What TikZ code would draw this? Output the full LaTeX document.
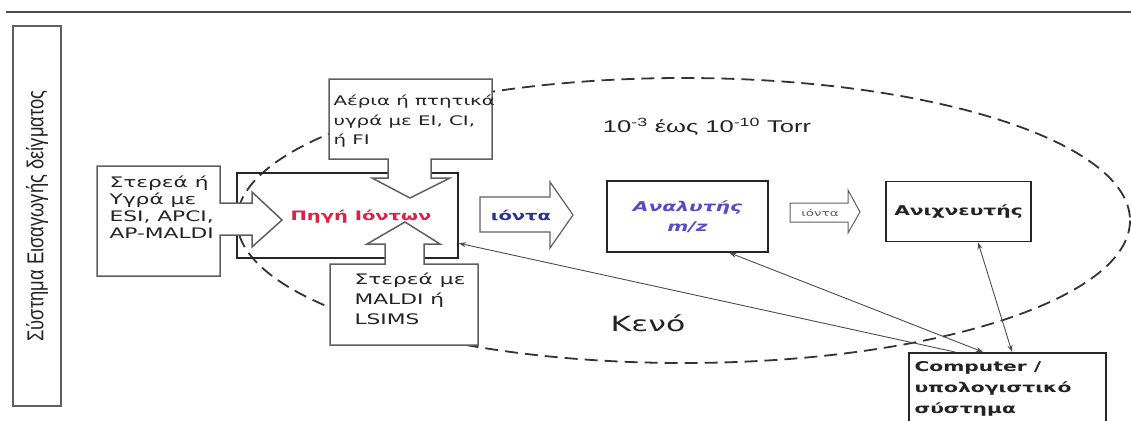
\documentclass[tikz,border=0pt]{standalone}
\usepackage{fontspec}
\setmainfont{DejaVu Sans}[FakeStretch=1.5]
\newfontfamily\torrfont{Liberation Sans}[FakeStretch=1.5]
\newfontfamily\sysfont{Liberation Sans}[FakeStretch=0.8]
\usetikzlibrary{arrows.meta,positioning,calc}
\definecolor{boxgray}{RGB}{95,95,95}
\definecolor{txtdark}{RGB}{35,35,35}
\definecolor{srcred}{RGB}{225,30,70}
\definecolor{ionblue}{RGB}{40,50,150}
\definecolor{anablue}{RGB}{85,75,200}

\tikzset{
  inlet/.style={draw=boxgray,line width=1.5pt,fill=white,line join=miter},
  unitbox/.style={draw=black!85,line width=1.6pt,inner sep=0pt},
  boxtext/.style={anchor=west,align=left,text=txtdark,font=\fontsize{14.5}{17}\selectfont},
  ionarrow/.style={draw=boxgray,line width=1.2pt,fill=white},
  link/.style={draw=black!70,line width=0.9pt},
  tipone/.style={-{Stealth[length=7pt,width=5pt]}},
  tipboth/.style={{Stealth[length=7pt,width=5pt]}-{Stealth[length=7pt,width=5pt]}}
}

\begin{document}
\begin{tikzpicture}[x=1pt,y=-1pt]
  \useasboundingbox (0,0) rectangle (1131,420);
  \clip (0,0) rectangle (1131,420);
  % --- rule and sample inlet column ---
  \draw[boxgray!80!black,line width=1.6pt] (6,12) -- (1131,12);
  \node[draw=boxgray,line width=1.5pt,minimum width=48pt,minimum height=380pt] (inlet) at (37,216) {};
  \node[rotate=90,text=txtdark,font=\sysfont\fontsize{23}{25}\selectfont] (inlettxt) at (inlet) {Σύστημα Εισαγωγής δείγματος};
  % --- vacuum region ---
  \draw[black!80,line width=1.8pt,dash pattern=on 13pt off 7pt] (683.5,220.5) ellipse [x radius=446.5, y radius=142.5];
  \node[text=txtdark,font=\torrfont\fontsize{17}{20}\selectfont] (press) at (707,127)
        {10\textsuperscript{-3} έως 10\textsuperscript{-10} Torr};
  \node[text=txtdark,font=\fontsize{21}{24}\selectfont] (vac) at (648,323) {Κενό};
  % --- ion source and the three inlets ---
  \node[unitbox,minimum width=221pt,minimum height=85pt] (src) at (347.5,215.5) {};
  % liquid / solid inlet (left)
  \draw[inlet] (97,166) -| (220,203) -- (252,203) -- (252,192) -- (282,220)
        -- (252,247) -- (252,235) -- (220,235) |- (97,276) -- cycle;
  % gas inlet (top)
  \draw[inlet] (329,79) -| (492,159) -- (431,159) -- (431,178) -- (450,178)
        -- (410,198) -- (372,178) -- (388,178) -- (388,159) -- (329,159) -- cycle;
  % MALDI inlet (bottom)
  \draw[inlet] (330,345) -| (478,264) -- (424,264) -- (424,244) -- (440,244)
        -- (405,222) -- (367,244) -- (385,244) -- (385,264) -- (330,264) -- cycle;
  \node[boxtext] (intxtL) at (106,207.5) {Στερεά ή\\Υγρά με\\ESI, APCI,\\AP-MALDI};
  \node[boxtext,font=\fontsize{13.2}{19.5}\selectfont] (intxtT) at (330,121.5) {Αέρια ή πτητικά\\υγρά με EI, CI,\\ή FI};
  \node[boxtext,font=\fontsize{14.5}{20}\selectfont] (intxtB) at (351,299) {Στερεά με\\MALDI ή\\LSIMS};
  \node[text=srcred,font=\bfseries\fontsize{13}{15}\selectfont] (srctxt) at (361,217) {Πηγή Ιόντων};
  % --- ions to analyser ---
  \draw[ionarrow] (480,197) -- (550,197) -- (550,182) -- (573,215) -- (550,248)
        -- (550,232) -- (480,232) -- cycle;
  \node[text=ionblue,font=\bfseries\fontsize{13}{15}\selectfont] (ions1) at (521,215) {ιόντα};
  \node[unitbox,minimum width=161pt,minimum height=71pt,align=center,text=anablue,
        font=\bfseries\itshape\fontsize{13.5}{20}\selectfont] (ana) at (687.5,216.5) {Αναλυτής\\m/z};
  % --- ions to detector ---
  \draw[ionarrow,line width=1pt] (790,203) -- (848,203) -- (848,190) -- (860,212) -- (848,233)
        -- (848,222) -- (790,222) -- cycle;
  \node[text=boxgray,font=\fontsize{9}{11}\selectfont] (ions2) at (820,212.5) {ιόντα};
  \node[unitbox,minimum width=145pt,minimum height=60pt,text=txtdark,
        font=\bfseries\fontsize{13.5}{16}\selectfont] (det) at (958.5,211.5) {Ανιχνευτής};
  % --- computer ---
  \node[unitbox,minimum width=197pt,minimum height=90pt,anchor=north west] (comp) at (908,352) {};
  \node[boxtext,font=\bfseries\fontsize{13.5}{21}\selectfont] (comptxt) at (911,389)
        {Computer /\\υπολογιστικό\\σύστημα};
  \coordinate (cSrc) at ([xshift=47pt]comp.north west);
  \coordinate (cAna) at ([xshift=75pt]comp.north west);
  \coordinate (cDet) at ([xshift=104pt]comp.north west);
  \coordinate (aBot) at ([xshift=42pt]ana.south);
  \coordinate (dBot) at ([xshift=19.5pt]det.south);
  \draw[link,tipone] (cSrc) -- (src.-14);
  \draw[link,tipboth] (cAna) -- (aBot);
  \draw[link,tipboth] (cDet) -- (dBot);
\end{tikzpicture}
\end{document}
